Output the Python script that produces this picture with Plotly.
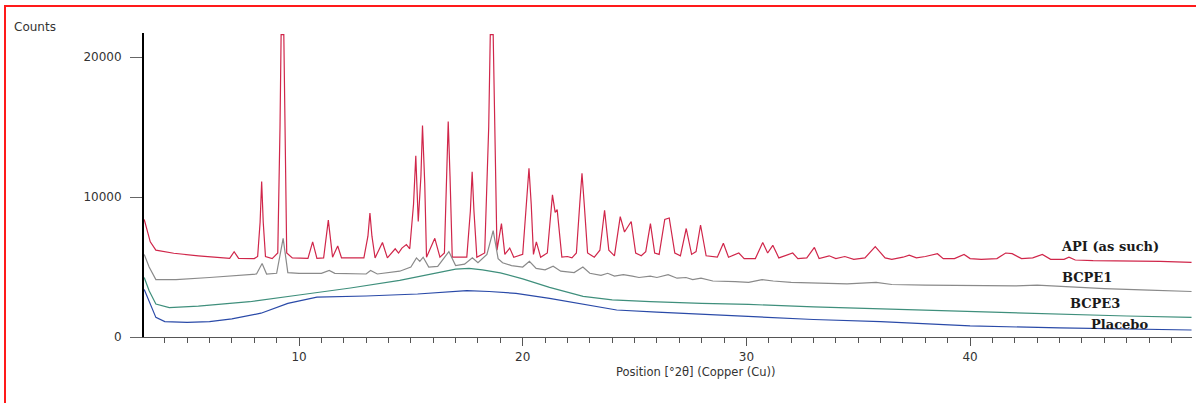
import plotly.graph_objects as go

# ---------------- data ----------------
api_x = [3.08, 3.35, 3.6, 4.4, 5.5, 6.9, 7.1, 7.3, 8.0, 8.15, 8.26, 8.33, 8.4, 8.5, 8.8, 9.05, 9.15, 9.2, 9.32, 9.38, 9.45, 9.7,
         10.4, 10.61, 10.8, 11.1, 11.31, 11.5, 11.73, 11.9, 12.9, 13.08, 13.17, 13.26, 13.4, 13.73, 13.95, 14.3, 14.45,
         14.6, 14.8, 14.95, 15.12, 15.22, 15.33, 15.45, 15.52, 15.62, 15.7, 16.07, 16.3, 16.5, 16.6, 16.67, 16.75, 16.85,
         17.5, 17.66, 17.74, 17.82, 17.95, 18.3, 18.48, 18.55, 18.68, 18.75, 18.85, 19.05, 19.2, 19.42, 19.6, 20.0, 20.18,
         20.28, 20.38, 20.48, 20.61, 20.8, 21.1, 21.33, 21.45, 21.54, 21.75, 22.0, 22.2, 22.4, 22.55, 22.65, 22.75, 22.9,
         23.2, 23.45, 23.66, 23.85, 24.1, 24.36, 24.55, 24.85, 25.05, 25.3, 25.5, 25.71, 25.9, 26.1, 26.35, 26.55, 26.8,
         27.05, 27.31, 27.55, 27.75, 27.95, 28.2, 28.7, 28.97, 29.2, 29.66, 29.9, 30.4, 30.73, 30.95, 31.18, 31.45, 32.07,
         32.3, 32.7, 33.04, 33.25, 33.7, 34.0, 34.4, 34.8, 35.3, 35.76, 36.2, 36.5, 37.0, 37.28, 37.6, 38.0, 38.54, 38.8,
         39.3, 39.73, 40.0, 40.5, 41.2, 41.59, 41.88, 42.3, 42.8, 43.23, 43.6, 44.2, 44.42, 44.7, 45.5, 46.5, 47.5, 48.5,
         49.9]
api_y = [8400, 6800, 6200, 5980, 5800, 5620, 6090, 5620, 5600, 5750, 8200, 11100, 8200, 5750, 5600, 6000, 15000, 21600, 21600, 15000, 6000, 5650,
         5620, 6800, 5620, 5650, 8350, 5700, 6500, 5650, 5650, 7200, 8850, 7200, 5650, 6750, 5650, 6300, 6000,
         6350, 6600, 6300, 9500, 12950, 8250, 11500, 15100, 11000, 5700, 7050, 5700, 6000, 11500, 15400, 11500, 5700,
         5700, 9000, 11800, 9000, 5700, 6000, 15000, 21600, 21600, 15000, 6200, 8100, 5900, 6350, 5700, 5900, 9500,
         12050, 9500, 5900, 6800, 5700, 6000, 10150, 8900, 9100, 5700, 5750, 5650, 6000, 9500, 11700, 9500, 6000,
         5700, 6200, 9050, 6200, 5800, 8600, 7500, 8250, 6000, 5800, 6100, 8100, 6000, 5900, 8400, 8500, 6000,
         5800, 7750, 5900, 6100, 8000, 5800, 5700, 6700, 5700, 6000, 5600, 5600, 6750, 6000, 6550, 5650, 6000,
         5600, 5650, 6400, 5600, 5800, 5600, 5750, 5550, 5650, 6450, 5650, 5550, 5700, 5850, 5650, 5750, 5950, 5600,
         5600, 5900, 5600, 5550, 5600, 6000, 5950, 5600, 5650, 5900, 5550, 5550, 5700, 5500, 5450, 5450, 5400, 5400,
         5330]

bcpe1_x = [3.08, 3.3, 3.6, 4.5, 6.0, 7.5, 8.1, 8.35, 8.55, 9.0, 9.29, 9.5, 10.0, 11.0, 11.35, 11.6, 13.0, 13.2,
           13.5, 14.5, 15.0, 15.25, 15.4, 15.55, 15.8, 16.2, 16.7, 17.0, 17.4, 17.75, 18.0, 18.4, 18.68, 18.9,
           19.1, 19.5, 20.0, 20.3, 20.6, 21.0, 21.36, 21.7, 22.3, 22.69, 23.0, 23.5, 23.8, 24.1, 24.5, 24.9,
           25.2, 25.7, 26.0, 26.5, 26.9, 27.3, 27.6, 27.97, 28.5, 29.5, 30.1, 30.7, 31.2, 32.0, 33.0, 34.5,
           35.8, 36.5, 38.0, 40.0, 42.0, 43.0, 44.5, 46.0, 48.0, 49.9]
bcpe1_y = [5900, 5000, 4100, 4100, 4250, 4400, 4500, 5250, 4500, 4550, 7050, 4600, 4550, 4550, 4750, 4550, 4500, 4750,
           4500, 4700, 5000, 5650, 5400, 5700, 5000, 5050, 6100, 5100, 5200, 5650, 5300, 5900, 7600, 5600,
           5300, 5100, 5000, 5400, 4900, 4800, 5050, 4700, 4600, 5000, 4550, 4400, 4550, 4350, 4450, 4350,
           4250, 4350, 4250, 4450, 4200, 4250, 4100, 4200, 4000, 3950, 3900, 4100, 4000, 3900, 3850, 3800,
           3900, 3750, 3700, 3650, 3650, 3700, 3550, 3450, 3350, 3250]

bcpe3_x = [3.08, 3.3, 3.6, 4.2, 5.5, 7.8, 10.0, 12.3, 14.5, 16.0, 17.0, 17.6, 18.2, 19.0, 20.0, 21.2, 22.7,
           24.0, 25.7, 28.0, 30.1, 33.0, 36.0, 40.0, 44.0, 47.0, 49.9]
bcpe3_y = [4250, 3300, 2350, 2100, 2200, 2520, 3000, 3500, 4050, 4500, 4850, 4900, 4800, 4580, 4150, 3550, 2900,
           2650, 2520, 2400, 2330, 2150, 2000, 1810, 1620, 1500, 1400]

placebo_x = [3.08, 3.3, 3.6, 4.0, 5.0, 6.0, 7.0, 8.3, 9.5, 10.8, 13.0, 15.3, 16.5, 17.5, 18.5, 19.7, 21.2, 22.5,
             24.2, 26.0, 28.0, 30.1, 33.0, 36.0, 40.0, 44.0, 47.0, 49.9]
placebo_y = [3400, 2500, 1400, 1100, 1050, 1100, 1300, 1700, 2400, 2850, 2930, 3070, 3200, 3310, 3250, 3120, 2760, 2400,
             1930, 1780, 1620, 1450, 1250, 1100, 790, 650, 580, 500]

series_names = ["API (as such)", "BCPE1", "BCPE3", "Placebo"]
label_x = [46.25, 45.23, 45.58, 46.66]
label_y = [6500, 4215, 2360, 900]

x_major_step = 10
x_minor_step = 1
y_ticks = [0, 10000, 20000]
y_tick_text = ["0", "10000", "20000"]

# ---------------- figure ----------------
W, H = 1196, 403
L, R, T, B = 144, 4, 33, 66
pw, ph = W - L - R, H - T - B

colors = ["#d0264a", "#8a8a8a", "#3f8f7c", "#2a4aa8"]
fig = go.Figure()
for xs, ys, c, n in zip([api_x, bcpe1_x, bcpe3_x, placebo_x],
                        [api_y, bcpe1_y, bcpe3_y, placebo_y], colors, series_names):
    fig.add_trace(go.Scatter(x=xs, y=ys, mode="lines", name=n,
                             line=dict(color=c, width=1.2), showlegend=False))

for n, lx, ly in zip(series_names, label_x, label_y):
    fig.add_annotation(x=lx, y=ly, text=n, showarrow=False,
                       font=dict(family="DejaVu Serif", size=13, color="#1a1a1a", weight="bold"),
                       xanchor="center", yanchor="middle")

def px2paper_x(p):
    return (p - L) / pw

def py2paper_y(p):
    return (H - B - p) / ph

fig.add_annotation(xref="paper", yref="paper", x=px2paper_x(12), y=py2paper_y(27), text="Counts",
                   showarrow=False, xanchor="left", yanchor="middle",
                   font=dict(family="DejaVu Sans", size=12, color="#333"))
fig.add_annotation(xref="paper", yref="paper", x=px2paper_x(696), y=py2paper_y(372),
                   text="Position [°2θ] (Copper (Cu))", showarrow=False, xanchor="center", yanchor="middle",
                   font=dict(family="DejaVu Sans", size=11.5, color="#333"))

# red frame around the picture
fig.add_shape(type="rect", xref="paper", yref="paper",
              x0=px2paper_x(5), x1=px2paper_x(1204), y0=py2paper_y(412), y1=py2paper_y(6),
              line=dict(color="#ff1a1a", width=2), layer="above")

ymax = (H - B - T) * 10000 / 140
fig.update_layout(
    width=W, height=H, margin=dict(l=L, r=R, t=T, b=B),
    paper_bgcolor="white", plot_bgcolor="white",
    xaxis=dict(range=[3.07, 49.92], tickmode="linear", tick0=0, dtick=x_major_step,
               ticks="outside", ticklen=8, tickwidth=1,
               tickcolor="#555", showgrid=False, zeroline=False, showline=True, linecolor="#555",
               linewidth=1.2, tickfont=dict(family="DejaVu Sans", size=12, color="#333"),
               minor=dict(dtick=x_minor_step, tick0=0, ticks="outside", ticklen=5, tickwidth=1,
                          tickcolor="#555", showgrid=False)),
    yaxis=dict(range=[0, ymax], tickvals=y_ticks, ticktext=y_tick_text, ticks="outside", ticklen=12, tickwidth=1,
               tickcolor="#666", showgrid=False, zeroline=False, showline=True, linecolor="#000",
               linewidth=2, ticklabelstandoff=6,
               tickfont=dict(family="DejaVu Sans", size=12, color="#333")),
)

fig.write_html("out.html", config={"displayModeBar": False},
               post_script="document.body.style.margin='0';document.body.style.overflow='hidden';")
